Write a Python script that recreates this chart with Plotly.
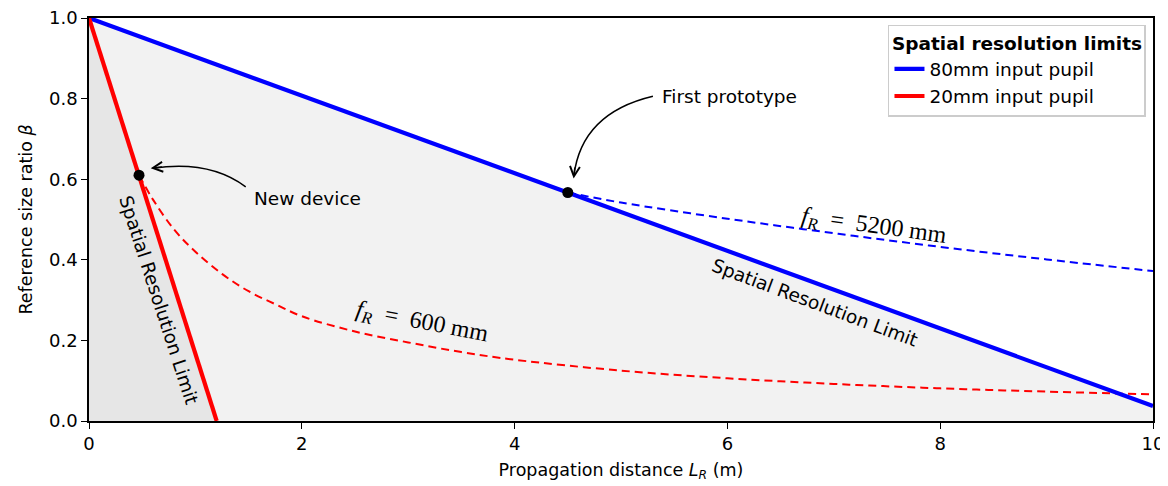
import plotly.graph_objects as go

# Spatial resolution limits (solid lines)
blue_x = [0.0, 10.0]
blue_y = [1.0, 0.037]
red_x = [0.0, 1.2]
red_y = [1.0, 0.0]

# Fixed-focal-length curves (dashed)
f600_x = [0.47, 0.6, 0.8, 1.0, 1.25, 1.5, 1.75, 2.0, 2.5, 3.0, 3.5, 4.0, 5.0, 6.0, 7.0, 8.0, 9.0, 10.0]
f600_y = [0.61, 0.55, 0.475, 0.42, 0.365, 0.322, 0.29, 0.26, 0.222, 0.195, 0.171, 0.152, 0.125, 0.106, 0.092, 0.081, 0.073, 0.066]
f5200_x = [4.5, 5.0, 6.0, 7.0, 8.0, 9.0, 10.0]
f5200_y = [0.567, 0.542, 0.502, 0.466, 0.432, 0.401, 0.372]

# Devices
dev_x = [0.47, 4.5]
dev_y = [0.61, 0.567]

x_ticks = [0, 2, 4, 6, 8, 10]
y_ticks = [0.0, 0.2, 0.4, 0.6, 0.8, 1.0]

BLUE = "#0000ff"
RED = "#ff0000"
SANS = "DejaVu Sans"
SERIF = "Liberation Serif"

fig = go.Figure()

# shaded regions under each limit
fig.add_trace(go.Scatter(x=blue_x + [blue_x[-1], blue_x[0]], y=blue_y + [0, 0],
                         fill="toself", fillcolor="#f2f2f2", mode="none",
                         showlegend=False, hoverinfo="skip"))
fig.add_trace(go.Scatter(x=red_x + [red_x[0]], y=red_y + [0],
                         fill="toself", fillcolor="#e6e6e6", mode="none",
                         showlegend=False, hoverinfo="skip"))

fig.add_trace(go.Scatter(x=f600_x, y=f600_y, mode="lines", showlegend=False,
                         line=dict(color=RED, width=2, dash="8px,5px", shape="spline")))
fig.add_trace(go.Scatter(x=f5200_x, y=f5200_y, mode="lines", showlegend=False,
                         line=dict(color=BLUE, width=2, dash="8px,5px", shape="spline")))

fig.add_trace(go.Scatter(x=blue_x, y=blue_y, mode="lines", name="80mm input pupil",
                         line=dict(color=BLUE, width=4.2)))
fig.add_trace(go.Scatter(x=red_x, y=red_y, mode="lines", name="20mm input pupil",
                         line=dict(color=RED, width=4.2)))

fig.add_trace(go.Scatter(x=dev_x, y=dev_y, mode="markers", showlegend=False,
                         marker=dict(color="black", size=11)))

# curved annotation arrows (quadratic beziers in data coords)
fig.add_shape(type="path", xref="x", yref="y", layer="above",
              path="M 1.473,0.581 Q 1.133,0.648 0.60,0.627",
              line=dict(color="black", width=1.5))
fig.add_shape(type="path", xref="x", yref="y", layer="above",
              path="M 5.30,0.806 Q 4.628,0.764 4.557,0.608",
              line=dict(color="black", width=1.5))

arrow = dict(showarrow=True, arrowhead=5, arrowsize=1.3, arrowwidth=1.5,
             arrowcolor="black", axref="x", ayref="y", text=" ", standoff=0,
             font=dict(size=1))
fig.add_annotation(x=0.58, y=0.627, ax=0.70, ay=0.631, **arrow)
fig.add_annotation(x=4.555, y=0.602, ax=4.568, ay=0.634, **arrow)

txt = dict(showarrow=False, font=dict(family=SANS, size=18.5, color="black"))
fig.add_annotation(x=1.53, y=0.553, text="New device", xanchor="left", **txt)
fig.add_annotation(x=5.37, y=0.806, text="First prototype", xanchor="left", **txt)
fig.add_annotation(x=6.82, y=0.295, text="Spatial Resolution Limit", textangle=20.5, **txt)
fig.add_annotation(x=0.66, y=0.30, text="Spatial Resolution Limit", textangle=72, **txt)

math = dict(showarrow=False, font=dict(family=SERIF, size=24, color="black"))
fig.add_annotation(x=7.38, y=0.482, textangle=8,
                   text="<i>f</i><sub><i>R</i></sub>&nbsp;&nbsp;=&nbsp;&nbsp;5200&nbsp;mm", **math)
fig.add_annotation(x=3.13, y=0.243, textangle=11,
                   text="<i>f</i><sub><i>R</i></sub>&nbsp;&nbsp;=&nbsp;&nbsp;600&nbsp;mm", **math)

axis = dict(showline=True, linecolor="black", linewidth=1.5, mirror=True,
            ticks="outside", ticklen=6, tickwidth=1.3, tickcolor="black",
            showgrid=False, zeroline=False, automargin=False,
            ticklabeloverflow="allow",
            tickfont=dict(family=SANS, size=18, color="black"))

fig.update_xaxes(range=[0, 10], tickvals=x_ticks,
                 title=dict(text="Propagation distance <i>L</i><sub><i>R</i></sub> (m)",
                            font=dict(family=SANS, size=17.5, color="black"), standoff=10),
                 **axis)
fig.update_yaxes(range=[0, 1], tickvals=y_ticks, tickformat=".1f",
                 title=dict(text="Reference size ratio <i>β</i>",
                            font=dict(family=SANS, size=17.5, color="black"), standoff=12),
                 **axis)

# the page body adds an 8px offset, so the figure is 8px smaller each way
fig.update_layout(
    width=1160, height=478,
    margin=dict(l=81, r=15, t=10, b=65),
    paper_bgcolor="white", plot_bgcolor="white",
    legend=dict(x=0.9934, y=0.983, xanchor="right", yanchor="top",
                bgcolor="white", bordercolor="#cccccc", borderwidth=1.5,
                font=dict(family=SANS, size=18.5, color="black"),
                title=dict(text="<b>Spatial resolution limits</b>", side="top center",
                           font=dict(family=SANS, size=18.5, color="black"))),
)

fig.write_html("out.html")
